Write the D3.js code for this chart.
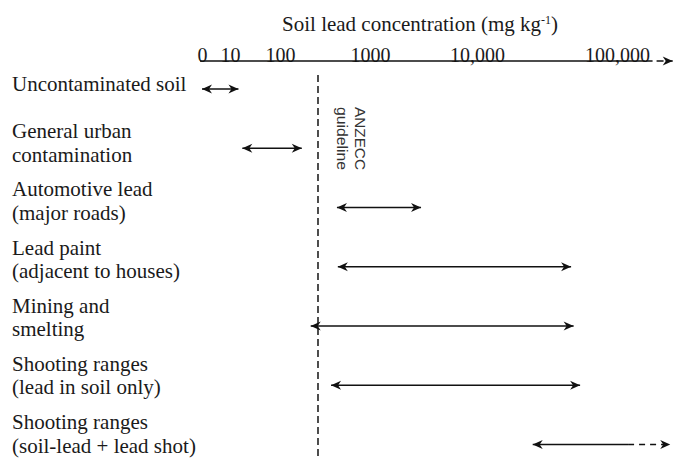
<!DOCTYPE html>
<html lang="en">
  <head>
    <meta charset="UTF-8" />
    <title>Soil lead concentration ranges</title>
    <script src="https://d3js.org/d3.v7.min.js"></script>
  </head>
  <style>
    html,
    body {
      margin: 0;
      padding: 0;
      background: #fff;
    }
    .serif {
      font-family: "Liberation Serif", "DejaVu Serif", serif;
    }
  </style>
  <body>
    <script>
      // data
      var rowLabels = [
        ["Uncontaminated soil"],
        ["General urban", "contamination"],
        ["Automotive lead", "(major roads)"],
        ["Lead paint", "(adjacent to houses)"],
        ["Mining and", "smelting"],
        ["Shooting ranges", "(lead in soil only)"],
        ["Shooting ranges", "(soil-lead + lead shot)"]
      ];
      var rangeLow = [0, 18, 430, 440, 220, 370, 25000];
      var rangeHigh = [15, 175, 3000, 47000, 49000, 54500, 120000];
      var rangeExtended = [null, null, null, null, null, null, 240000]; // dashed part
      var tickValues = [0, 10, 100, 1000, 10000, 100000];
      var tickLabels = ["0", "10", "100", "1000", "10,000", "100,000"];
      var axisSolidEnd = 160000;
      var axisDashedEnd = 250000;
      var guideline = 265;
      var guidelineText = ["ANZECC", "guideline"];

      var width = 675,
        height = 459;

      var svg = d3
        .select("body")
        .append("svg")
        .attr("width", width)
        .attr("height", height);

      // arrow heads
      var defs = svg.append("defs");
      defs
        .append("marker")
        .attr("id", "head")
        .attr("viewBox", "-11 -5 12 10")
        .attr("refX", 0)
        .attr("refY", 0)
        .attr("markerWidth", 12)
        .attr("markerHeight", 10)
        .attr("markerUnits", "userSpaceOnUse")
        .attr("orient", "auto-start-reverse")
        .append("path")
        .attr("d", "M0,0 L-10,-4.5 L-7,0 L-10,4.5 Z")
        .attr("fill", "#111");

      // uneven, log-like axis as printed
      var x = d3
        .scaleSymlog()
        .domain(tickValues)
        .range([202, 230, 280, 370, 477, 617]);

      // arrow rows
      var y = d3
        .scalePoint()
        .domain(d3.range(rowLabels.length))
        .range([89, 444.5]);

      // label blocks (first-line baseline)
      var yLabel = d3
        .scalePoint()
        .domain(d3.range(rowLabels.length))
        .range([80, 429]);

      // title
      var title = svg
        .append("text")
        .attr("class", "serif")
        .attr("x", 420)
        .attr("y", 31)
        .attr("text-anchor", "middle")
        .attr("font-size", 21)
        .attr("fill", "#1a1a1a")
        .text("Soil lead concentration (mg kg");
      title
        .append("tspan")
        .attr("dy", -7)
        .attr("font-size", 12)
        .text("-1");
      title.append("tspan").attr("dy", 7).text(")");

      // axis
      var axisY = 61;
      var axis = d3
        .axisTop(x)
        .tickValues(tickValues)
        .tickFormat(function (d, i) {
          return tickLabels[i];
        })
        .tickSize(0)
        .tickPadding(-1);

      var gAxis = svg
        .append("g")
        .attr("transform", "translate(0," + axisY + ")")
        .call(axis);
      gAxis.select(".domain").remove();
      gAxis.attr("font-family", null).attr("font-size", null);
      gAxis
        .selectAll("text")
        .attr("class", "serif")
        .attr("font-size", 20)
        .attr("fill", "#1a1a1a");

      gAxis
        .append("line")
        .attr("x1", x(0) - 2)
        .attr("x2", x(axisSolidEnd))
        .attr("stroke", "#111")
        .attr("stroke-width", 1.5);
      gAxis
        .append("line")
        .attr("x1", x(axisSolidEnd))
        .attr("x2", x(axisDashedEnd))
        .attr("stroke", "#111")
        .attr("stroke-width", 1.5)
        .attr("stroke-dasharray", "7,4")
        .attr("marker-end", "url(#head)");

      // guideline
      var gx = x(guideline);
      svg
        .append("line")
        .attr("x1", gx)
        .attr("x2", gx)
        .attr("y1", 75)
        .attr("y2", height)
        .attr("stroke", "#222")
        .attr("stroke-width", 1.6)
        .attr("stroke-dasharray", "7,4");

      svg
        .selectAll(".guide-label")
        .data(guidelineText)
        .enter()
        .append("text")
        .attr("class", "guide-label")
        .attr("transform", function (d, i) {
          return "translate(" + (gx + 37 - i * 18) + ",107) rotate(90)";
        })
        .attr("font-family", "Liberation Sans, Arial, sans-serif")
        .attr("font-size", 15)
        .attr("textLength", 63)
        .attr("lengthAdjust", "spacingAndGlyphs")
        .attr("fill", "#333")
        .text(function (d) {
          return d;
        });

      // row labels
      var rows = svg
        .selectAll(".row")
        .data(rowLabels)
        .enter()
        .append("g")
        .attr("class", "row");

      rows
        .append("text")
        .attr("class", "serif")
        .attr("font-size", 21)
        .attr("fill", "#1a1a1a")
        .each(function (lines, i) {
          var t = d3.select(this);
          var top = lines.length > 1 ? yLabel(i) : yLabel(i) + 11;
          lines.forEach(function (line, k) {
            t.append("tspan")
              .attr("x", 12)
              .attr("y", top + k * 23.5)
              .text(line);
          });
        });

      // range arrows
      rows
        .append("line")
        .attr("x1", function (d, i) {
          return x(rangeLow[i]);
        })
        .attr("x2", function (d, i) {
          return x(rangeHigh[i]);
        })
        .attr("y1", function (d, i) {
          return y(i);
        })
        .attr("y2", function (d, i) {
          return y(i);
        })
        .attr("stroke", "#111")
        .attr("stroke-width", 1.6)
        .attr("marker-start", "url(#head)")
        .attr("marker-end", function (d, i) {
          return rangeExtended[i] == null ? "url(#head)" : null;
        });

      rows
        .filter(function (d, i) {
          return rangeExtended[i] != null;
        })
        .append("line")
        .attr("x1", function (d) {
          return x(rangeHigh[rowLabels.indexOf(d)]);
        })
        .attr("x2", function (d) {
          return x(rangeExtended[rowLabels.indexOf(d)]);
        })
        .attr("y1", function (d) {
          return y(rowLabels.indexOf(d));
        })
        .attr("y2", function (d) {
          return y(rowLabels.indexOf(d));
        })
        .attr("stroke", "#111")
        .attr("stroke-width", 1.6)
        .attr("stroke-dasharray", "6,5")
        .attr("marker-end", "url(#head)");
    </script>
  </body>
</html>
